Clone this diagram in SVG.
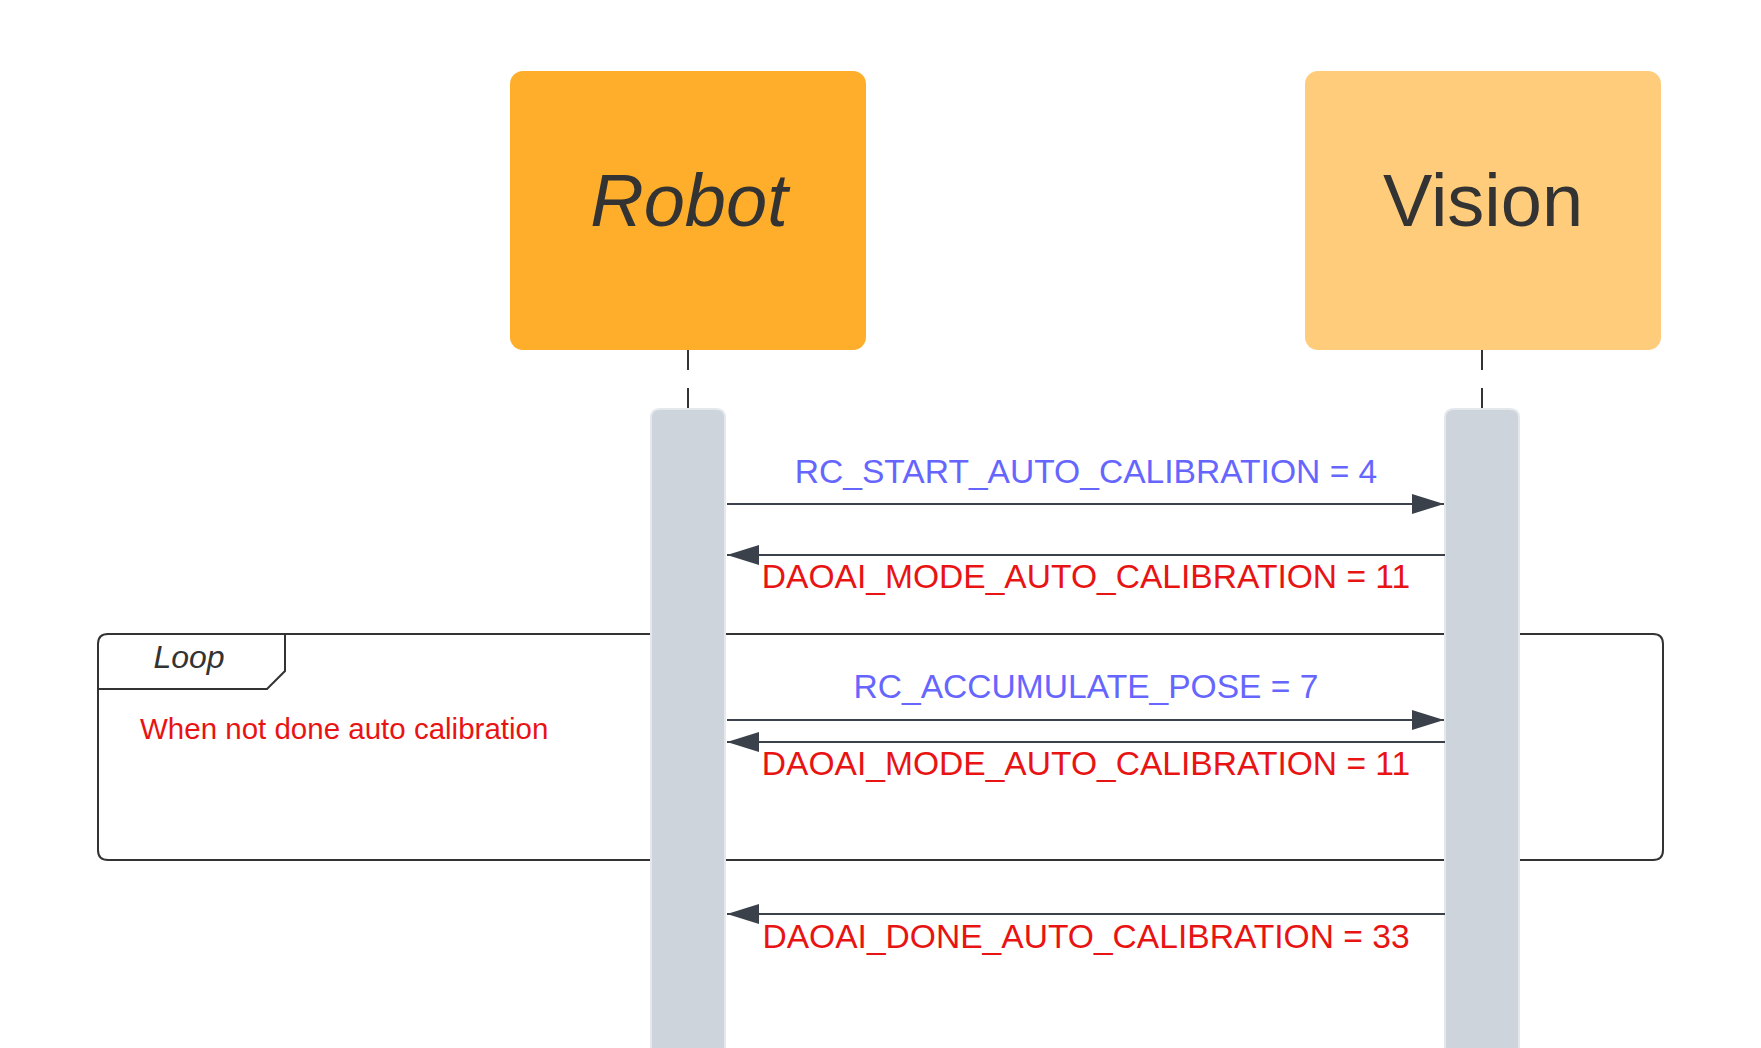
<svg xmlns="http://www.w3.org/2000/svg" width="1761" height="1048" viewBox="0 0 1761 1048">
<defs>
<style>
.lbl{font-family:"Liberation Sans",Arial,sans-serif;}
.head{font-size:74px;fill:#333333;text-anchor:middle;}
.msgB{font-size:33.6px;fill:#6666ff;text-anchor:middle;}
.msgR{font-size:33.6px;fill:#e81414;text-anchor:middle;}
.msg{stroke:#3a414a;stroke-width:2;fill:none;}
.life{stroke:#333333;stroke-width:2;stroke-dasharray:20 18;fill:none;}
.bar{fill:#ced4db;stroke:#e4e8ec;stroke-width:2;}
</style>
<marker id="arr" viewBox="0 0 32 20" refX="32" refY="10" markerWidth="32" markerHeight="20" markerUnits="userSpaceOnUse" orient="auto">
<path d="M0,0 L32,10 L0,20 Z" fill="#3a414a"/>
</marker>
</defs>
<rect width="1761" height="1048" fill="#ffffff"/>

<g id="loop">
<path d="M108,634 H1653 Q1663,634 1663,644 V850 Q1663,860 1653,860 H108 Q98,860 98,850 V644 Q98,634 108,634 Z" fill="#ffffff" stroke="#333333" stroke-width="2"/>
<path d="M98,689 H267 L285,671 V634" fill="none" stroke="#333333" stroke-width="2"/>
<text class="lbl" x="189" y="668" font-size="32" font-style="italic" fill="#333333" text-anchor="middle">Loop</text>
<text class="lbl" x="140" y="739" font-size="29.5" fill="#e81414">When not done auto calibration</text>
</g>

<g id="robot">
<rect x="510" y="71" width="356" height="279" rx="13" fill="#feae2a"/>
<text class="lbl head" x="689" y="226" font-style="italic">Robot</text>
<line class="life" x1="688" y1="350" x2="688" y2="409"/>
<path class="bar" d="M651,1050 V418 Q651,409 660,409 H716 Q725,409 725,418 V1050 Z"/>
</g>

<g id="vision">
<rect x="1305" y="71" width="356" height="279" rx="13" fill="#fecc7a"/>
<text class="lbl head" x="1483" y="226">Vision</text>
<line class="life" x1="1482" y1="350" x2="1482" y2="409"/>
<path class="bar" d="M1445,1050 V418 Q1445,409 1454,409 H1510 Q1519,409 1519,418 V1050 Z"/>
</g>

<g id="connectors">
<line class="msg" x1="727" y1="504" x2="1444" y2="504" marker-end="url(#arr)"/>
<text class="lbl msgB" x="1086" y="483">RC_START_AUTO_CALIBRATION = 4</text>
<line class="msg" x1="1445" y1="555" x2="727" y2="555" marker-end="url(#arr)"/>
<text class="lbl msgR" x="1086" y="588">DAOAI_MODE_AUTO_CALIBRATION = 11</text>
<line class="msg" x1="727" y1="720" x2="1444" y2="720" marker-end="url(#arr)"/>
<text class="lbl msgB" x="1086" y="698">RC_ACCUMULATE_POSE = 7</text>
<line class="msg" x1="1445" y1="742" x2="727" y2="742" marker-end="url(#arr)"/>
<text class="lbl msgR" x="1086" y="775">DAOAI_MODE_AUTO_CALIBRATION = 11</text>
<line class="msg" x1="1445" y1="914" x2="727" y2="914" marker-end="url(#arr)"/>
<text class="lbl msgR" x="1086" y="948">DAOAI_DONE_AUTO_CALIBRATION = 33</text>
</g>
</svg>
